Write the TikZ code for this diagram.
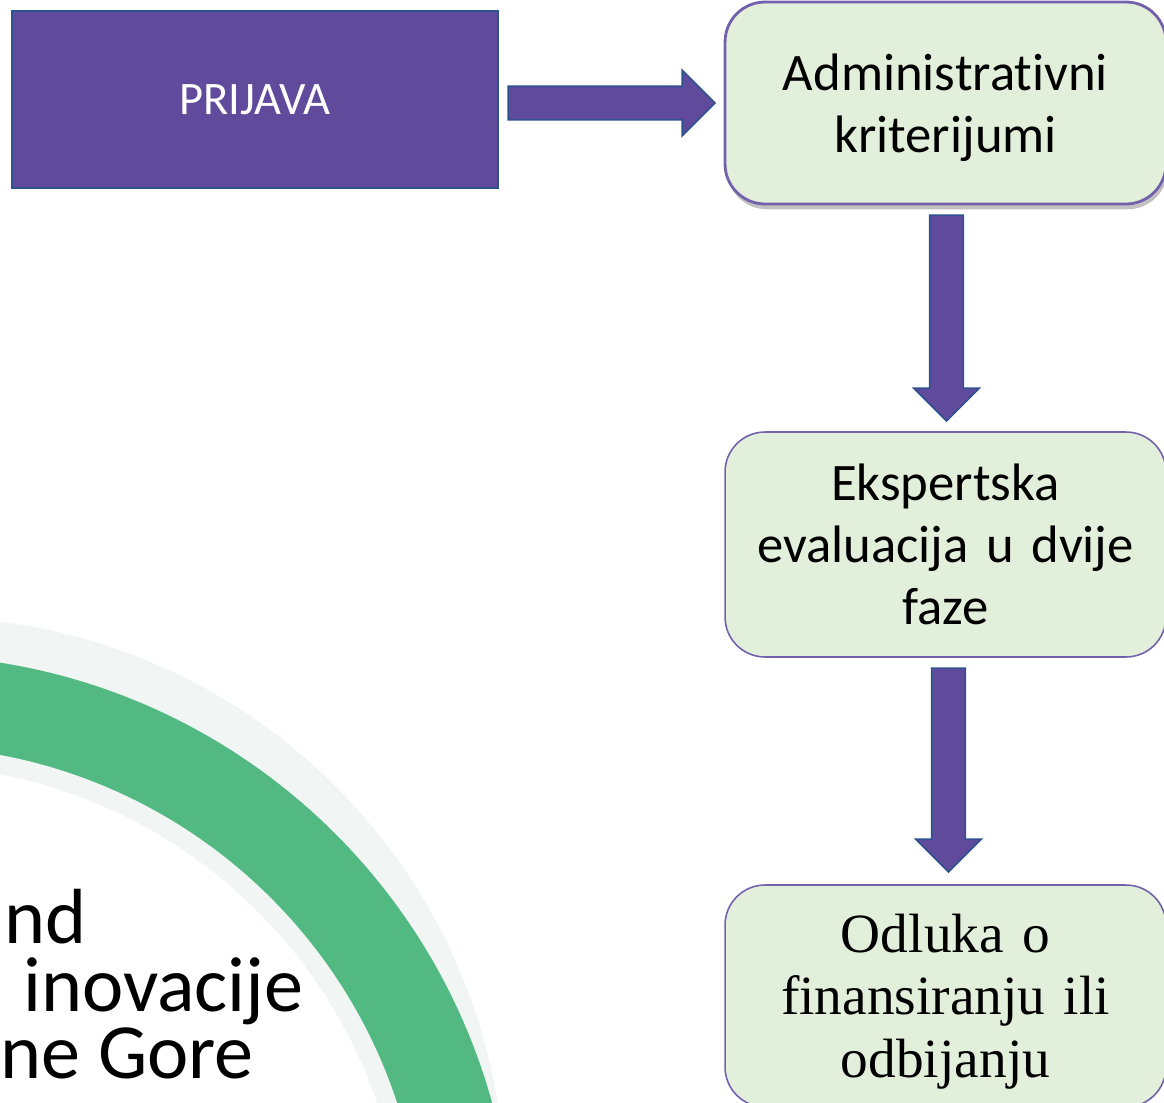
\documentclass[tikz,border=0pt]{standalone}
\usepackage{fontspec}
\setmainfont{Carlito}[Ligatures=NoCommon]
\newfontfamily\odlukafont{Liberation Serif}
\usetikzlibrary{positioning,calc,shapes.arrows,shadows}

\definecolor{boxpurple}{HTML}{5F4A9B}
\definecolor{edgeblue}{HTML}{2F528F}
\definecolor{boxgreen}{HTML}{E2EFDA}
\definecolor{boxedge}{HTML}{7461AC}
\definecolor{ringgreen}{HTML}{53B983}
\definecolor{ringgray}{HTML}{F1F5F3}

\begin{document}
\begin{tikzpicture}[x=0.02cm, y=-0.02cm,
    korak/.style={draw=boxedge, line width=0.9pt, fill=boxgreen, rounded corners=0.8cm,
        minimum width=8.82cm, inner sep=0pt, outer sep=0pt, align=center, text width=8cm,
        text height=0pt, font=\fontsize{30}{35.5}\selectfont},
    strelica/.style={single arrow, draw=edgeblue, line width=0.9pt, fill=boxpurple,
        inner sep=0.32cm, single arrow head extend=0.32cm, outer sep=0pt, anchor=tip},
    naslov/.style={anchor=base west, inner sep=0pt, text height=0.55em, text depth=0pt,
        font=\fontsize{44.5}{50}\selectfont}]
        \useasboundingbox (0,0) rectangle (1164,1103);
        \clip (0,0) rectangle (1164,1103);

        % zeleni luk
        \coordinate (ring) at (-96,1265);
        \fill[ringgray] (-73,1195) circle[radius=11.56cm];
        \fill[ringgreen] (ring) circle[radius=12.2cm];
        \fill[ringgray] (ring) circle[radius=10.38cm];
        \fill[white] (ring) circle[radius=10.0cm];

        % naslov
        \node[naslov] (naslov1) at (4,943) {nd};
        \node[naslov] (naslov2) at (23,1011) {inovacije};
        \node[naslov] (naslov3) at (0,1078) {ne Gore};

        % koraci
        \node[draw=edgeblue, line width=1.1pt, fill=boxpurple, text=white, minimum width=9.72cm,
            minimum height=3.54cm, inner sep=0pt, font=\fontsize{26.5}{30}\selectfont] (prijava) at (255,99.5) {PRIJAVA};
        \node[korak, line width=1.6pt, minimum height=4.04cm, text depth=14.8pt,
            drop shadow={shadow xshift=1pt, shadow yshift=-3pt, opacity=0.35, fill=black!70}] (admin) at (945.5,103) {Administrativni\\kriterijumi};
        \node[korak, minimum height=4.5cm, text depth=50.6pt] (eval) at (945.5,544.5) {Ekspertska\\evaluacija u dvije\\faze};
        \node[korak, minimum height=4.44cm, text depth=50.1pt,
            font=\odlukafont\fontsize{31.5}{35.8}\selectfont] (odluka) at (945.5,996) {Odluka o\\finansiranju ili\\odbijanju};

        % strelice
        \node[strelica, minimum height=4.14cm] (s1) at ($(admin.west)+(-10,0)$) {};
        \node[strelica, minimum height=4.12cm, shape border rotate=270] (s2) at ($(eval.north)+(1,-11)$) {};
        \node[strelica, minimum height=4.08cm, shape border rotate=270] (s3) at ($(odluka.north)+(3,-13)$) {};
    \end{tikzpicture}
\end{document}
